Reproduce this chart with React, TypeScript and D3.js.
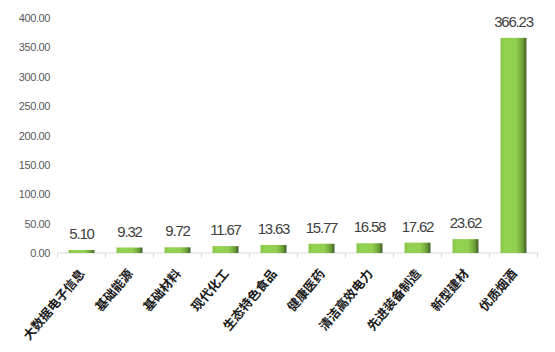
import React from "react";
import * as d3 from "d3";

const categories = ["大数据电子信息", "基础能源", "基础材料", "现代化工", "生态特色食品", "健康医药", "清洁高效电力", "先进装备制造", "新型建材", "优质烟酒"];
const values = [5.1, 9.32, 9.72, 11.67, 13.63, 15.77, 16.58, 17.62, 23.62, 366.23];
const yTicks = [0, 50, 100, 150, 200, 250, 300, 350, 400];

const W = 555;
const H = 352;
const left = 57.5;
const right = 537.5;
const top = 18;
const bottom = 253;

export default function App() {
  const x = d3.scaleBand<string>().domain(categories).range([left, right]).paddingInner(0.46).paddingOuter(0.23);
  const band = d3.scaleBand<string>().domain(categories).range([left, right]);
  const y = d3.scaleLinear().domain([0, 400]).range([bottom, top]);

  return (
    <svg width={W} height={H} style={{ position: "absolute", left: 0, top: 0, background: "#fff" }}>
      <defs>
        <linearGradient id="barGrad" x1="0" x2="1" y1="0" y2="0">
          <stop offset="0%" stopColor="#86c245" />
          <stop offset="15%" stopColor="#92d050" />
          <stop offset="60%" stopColor="#92d050" />
          <stop offset="85%" stopColor="#6f9f3a" />
          <stop offset="100%" stopColor="#3f5f20" />
        </linearGradient>
      </defs>
      {/* y axis labels */}
      {yTicks.map((t) => (
        <text key={t} x={50} y={y(t) + 4} textAnchor="end" fontFamily="Liberation Sans, Arial" fontSize={11} letterSpacing={-0.4} fill="#595959">
          {t.toFixed(2)}
        </text>
      ))}
      {/* x axis */}
      <line x1={left} x2={right} y1={bottom} y2={bottom} stroke="#d9d9d9" />
      {d3.range(categories.length + 1).map((i) => {
        const tx = left + i * band.bandwidth();
        return <line key={i} x1={tx} x2={tx} y1={bottom} y2={bottom + 5} stroke="#d9d9d9" />;
      })}
      {/* bars */}
      {categories.map((c, i) => (
        <rect key={c} x={x(c)} y={y(values[i])} width={x.bandwidth()} height={bottom - y(values[i])} fill="url(#barGrad)" />
      ))}
      {/* value labels */}
      {categories.map((c, i) => (
        <text key={c} x={x(c)! + x.bandwidth() / 2} y={y(values[i]) - 11} textAnchor="middle" fontFamily="Liberation Sans, Arial" fontSize={15} letterSpacing={-1.2} fill="#404040">
          {values[i].toFixed(2)}
        </text>
      ))}
      {/* category labels */}
      {categories.map((c) => {
        const cx = band(c)! + band.bandwidth() / 2 + 4;
        const cy = bottom + 21;
        return (
          <text key={c} transform={`translate(${cx},${cy}) rotate(-50)`} textAnchor="end" fontFamily="Noto Sans CJK SC" fontWeight="bold" fontSize={12.5} fill="#1a1a1a">
            {c}
          </text>
        );
      })}
    </svg>
  );
}
